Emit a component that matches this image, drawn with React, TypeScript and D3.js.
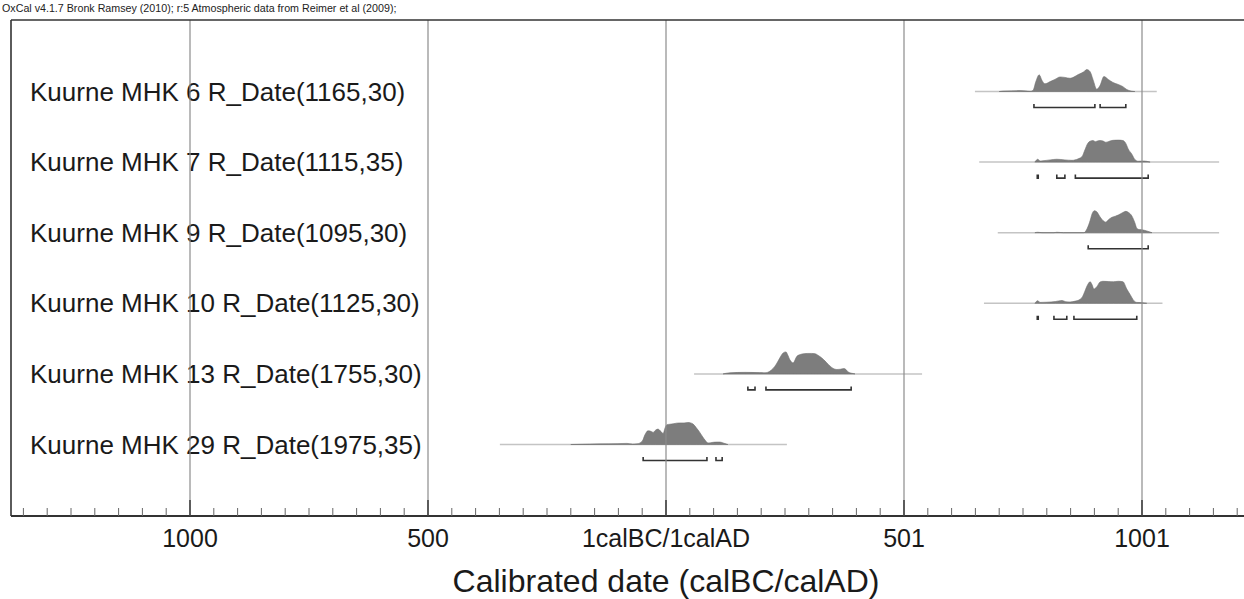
import * as d3 from "d3";
import React from "react";

// calibrated year: negative = BC side, 0 = 1calBC/1calAD boundary
const labels = [
  "Kuurne MHK 6 R_Date(1165,30)",
  "Kuurne MHK 7 R_Date(1115,35)",
  "Kuurne MHK 9 R_Date(1095,30)",
  "Kuurne MHK 10 R_Date(1125,30)",
  "Kuurne MHK 13 R_Date(1755,30)",
  "Kuurne MHK 29 R_Date(1975,35)",
];

// extent of the thin base line under each distribution
const extents = [
  [649, 1031],
  [658, 1162],
  [697, 1162],
  [668, 1043],
  [59, 538],
  [-349, 254],
];

// [year, relative probability]
const mhk6 = [
  [700, 0], [708, 0.02], [744, 0.04], [765, 0.01], [771, 0.05], [777, 0.45], [784, 0.76], [790, 0.5],
  [796, 0.35], [807, 0.45], [817, 0.55], [828, 0.66], [838, 0.64], [849, 0.6], [866, 0.77], [878, 0.9],
  [884, 1.0], [891, 0.9], [897, 0.55], [905, 0.1], [912, 0.28], [920, 0.68], [929, 0.55], [939, 0.41],
  [950, 0.32], [960, 0.22], [968, 0.09], [977, 0.02], [985, 0],
];
const mhk7 = [
  [775, 0], [781, 0.13], [786, 0.05], [792, 0.06], [807, 0.1], [821, 0.13], [838, 0.1], [853, 0.08],
  [866, 0.15], [874, 0.25], [880, 0.55], [886, 0.85], [891, 0.95], [897, 0.98], [902, 0.93], [908, 0.97],
  [913, 0.98], [918, 0.96], [924, 0.9], [929, 0.93], [939, 0.99], [950, 1.0], [960, 0.98], [966, 0.85],
  [971, 0.6], [979, 0.35], [985, 0.12], [992, 0.04], [1004, 0.05], [1017, 0],
];
const mhk9 = [
  [775, 0], [781, 0.02], [790, 0], [815, 0], [821, 0.02], [835, 0], [878, 0], [885, 0.2], [891, 0.55],
  [895, 0.85], [900, 1.0], [905, 0.95], [911, 0.75], [916, 0.6], [924, 0.48], [930, 0.6], [937, 0.7],
  [944, 0.75], [950, 0.8], [960, 0.92], [966, 0.97], [971, 0.93], [979, 0.75], [985, 0.45], [989, 0.2],
  [994, 0.14], [1000, 0.13], [1010, 0.08], [1021, 0],
];
const mhk10 = [
  [775, 0], [781, 0.12], [786, 0.04], [800, 0.05], [818, 0.08], [832, 0.13], [840, 0.07], [849, 0.06],
  [860, 0.1], [870, 0.18], [875, 0.3], [880, 0.55], [886, 0.85], [891, 0.98], [895, 0.85], [899, 0.65],
  [905, 0.75], [912, 0.97], [918, 1.0], [929, 0.99], [940, 0.98], [950, 1.0], [960, 0.98], [968, 0.65],
  [975, 0.4], [983, 0.12], [989, 0.04], [1000, 0.03], [1010, 0],
];
const mhk13 = [
  [120, 0], [134, 0.05], [166, 0.07], [197, 0.06], [208, 0.05], [218, 0.12], [225, 0.25], [232, 0.45],
  [239, 0.72], [246, 0.95], [252, 1.0], [256, 0.85], [260, 0.65], [267, 0.5], [275, 0.8], [282, 0.88],
  [290, 0.92], [298, 0.93], [306, 0.93], [313, 0.92], [319, 0.85], [324, 0.78], [331, 0.65], [338, 0.5],
  [345, 0.35], [351, 0.25], [359, 0.2], [366, 0.21], [374, 0.24], [378, 0.2], [382, 0.1], [390, 0.03],
  [397, 0],
];
const mhk29 = [
  [-200, 0], [-160, 0.02], [-120, 0.03], [-82, 0.05], [-70, 0.02], [-61, 0.03], [-50, 0.15], [-44, 0.45],
  [-38, 0.62], [-32, 0.6], [-27, 0.55], [-22, 0.65], [-17, 0.7], [-11, 0.6], [-6, 0.5], [-2, 0.75],
  [2, 0.9], [8, 0.92], [15, 0.94], [22, 0.97], [29, 0.98], [38, 0.98], [46, 1.0], [52, 0.98], [57, 0.93],
  [64, 0.75], [71, 0.55], [77, 0.35], [82, 0.2], [88, 0.07], [94, 0.08], [99, 0.1], [106, 0.11],
  [113, 0.11], [119, 0.08], [124, 0.04], [130, 0],
];
const densities = [mhk6, mhk7, mhk9, mhk10, mhk13, mhk29];

// 95.4% ranges
const ranges = [
  [[773, 901], [912, 966]],
  [[780, 782], [821, 838], [860, 1013]],
  [[887, 1013]],
  [[780, 782], [815, 842], [857, 989]],
  [[172, 187], [210, 389]],
  [[-48, 86], [105, 118]],
];

const majorTicks = [-1000, -500, 0, 500, 1000];
const majorLabels = ["1000", "500", "1calBC/1calAD", "501", "1001"];

const header =
  "OxCal v4.1.7 Bronk Ramsey (2010); r:5 Atmospheric data from Reimer et al (2009);";
const axisTitle = "Calibrated date (calBC/calAD)";

export default function App() {
  const width = 1244;
  const height = 599;
  const left = 11;
  const top = 20;
  const axisY = 516;
  const font = "'Liberation Sans', Arial, Helvetica, sans-serif";

  const x = d3.scaleLinear().domain([-1000, 1000]).range([190, 1142]);
  const [d0, d1] = [x.invert(left), x.invert(width)];
  const minorTicks = d3.range(Math.ceil(d0 / 50) * 50, d1, 50);

  const rowY = d3.scaleLinear().domain([0, labels.length - 1]).range([91.5, 444.5]);
  const h = d3.scaleLinear().domain([0, 1]).range([0, 22]);

  const area = (d, y0) =>
    d3
      .area()
      .x((p) => x(p[0]))
      .y0(y0)
      .y1((p) => y0 - h(p[1]))
      .curve(d3.curveMonotoneX)(d);

  return (
    <svg
      width={width}
      height={height}
      style={{ display: "block", position: "absolute", left: 0, top: 0, background: "#fff" }}
      fontFamily={font}
    >
      <text x={2} y={12} fontSize={10.7} fill="#222">
        {header}
      </text>

      {labels.map((l, i) => (
        <text key={l} x={30} y={rowY(i) + 9} fontSize={26} fill="#1a1a1a">
          {l}
        </text>
      ))}

      {densities.map((d, i) => {
        const y0 = rowY(i);
        return (
          <g key={i}>
            <line
              x1={x(extents[i][0])}
              x2={x(extents[i][1])}
              y1={y0}
              y2={y0}
              stroke="#c4c4c4"
              strokeWidth={1.5}
            />
            <path d={area(d, y0)} fill="#7d7d7d" stroke="#6e6e6e" strokeWidth={0.6} />
            {ranges[i].map((r, j) => {
              const by = y0 + 16;
              const a = x(r[0]);
              const b = x(r[1]);
              return (
                <path
                  key={j}
                  d={`M${a},${by - 3.5}V${by}H${b}V${by - 3.5}`}
                  fill="none"
                  stroke="#333"
                  strokeWidth={1.6}
                />
              );
            })}
          </g>
        );
      })}

      {majorTicks.map((t) => (
        <line key={t} x1={x(t)} x2={x(t)} y1={top} y2={axisY} stroke="#8c8c8c" strokeWidth={1.2} />
      ))}

      <line x1={left} x2={width} y1={top} y2={top} stroke="#333" strokeWidth={1.6} />
      <line x1={left} x2={left} y1={top} y2={axisY} stroke="#333" strokeWidth={1.6} />
      <line x1={left} x2={width} y1={axisY} y2={axisY} stroke="#333" strokeWidth={2} />

      {minorTicks.map((t) => (
        <line
          key={t}
          x1={x(t)}
          x2={x(t)}
          y1={axisY}
          y2={axisY - (t % 500 === 0 ? 16 : 8)}
          stroke={t % 500 === 0 ? "#444" : "#666"}
          strokeWidth={t % 500 === 0 ? 1.6 : 1}
        />
      ))}

      {majorTicks.map((t, i) => (
        <text key={t} x={x(t)} y={axisY + 31} fontSize={25} textAnchor="middle" fill="#1a1a1a">
          {majorLabels[i]}
        </text>
      ))}

      <text x={x(0)} y={592} fontSize={32} textAnchor="middle" fill="#1a1a1a">
        {axisTitle}
      </text>
    </svg>
  );
}
